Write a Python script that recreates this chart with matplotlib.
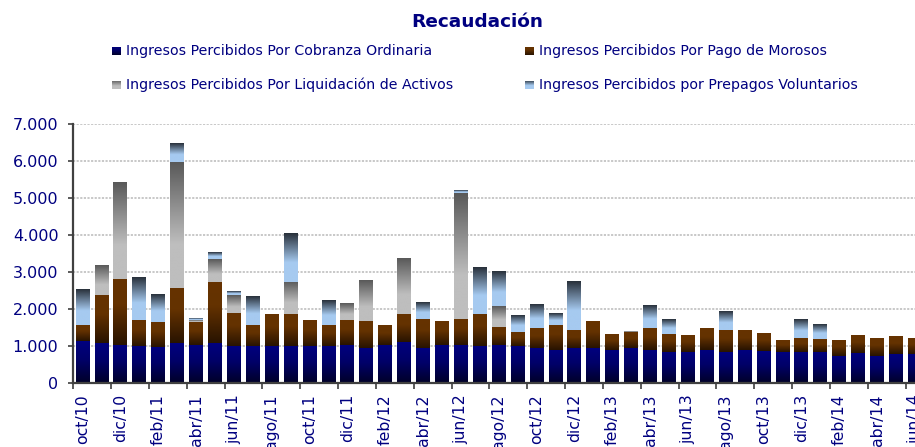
import numpy as np
import matplotlib
matplotlib.use('Agg')
import matplotlib.pyplot as plt
from matplotlib.colors import LinearSegmentedColormap
from matplotlib.ticker import FuncFormatter

# Meses (oct/10 - jun/14)
meses = ['oct/10', 'nov/10', 'dic/10', 'ene/11', 'feb/11', 'mar/11', 'abr/11', 'may/11',
         'jun/11', 'jul/11', 'ago/11', 'sep/11', 'oct/11', 'nov/11', 'dic/11', 'ene/12',
         'feb/12', 'mar/12', 'abr/12', 'may/12', 'jun/12', 'jul/12', 'ago/12', 'sep/12',
         'oct/12', 'nov/12', 'dic/12', 'ene/13', 'feb/13', 'mar/13', 'abr/13', 'may/13',
         'jun/13', 'jul/13', 'ago/13', 'sep/13', 'oct/13', 'nov/13', 'dic/13', 'ene/14',
         'feb/14', 'mar/14', 'abr/14', 'may/14', 'jun/14']

cobranza = [1126, 1072, 1036, 1009, 982, 1072, 1036, 1090, 1009, 1009, 1009, 1009, 1009, 1009, 1036,
            955, 1036, 1117, 955, 1036, 1036, 1009, 1036, 1009, 955, 901, 955, 955, 901, 955,
            901, 847, 847, 901, 847, 901, 874, 847, 847, 847, 739, 820, 739, 793, 793]
morosos = [451, 1315, 1784, 703, 676, 1505, 622, 1649, 892, 568, 838, 865, 676, 568, 676,
           730, 514, 757, 784, 622, 703, 865, 487, 378, 540, 676, 486, 703, 432, 432,
           594, 486, 459, 594, 594, 540, 486, 324, 378, 351, 432, 486, 486, 486, 432]
liquidacion = [0, 784, 2621, 0, 0, 3405, 40, 621, 486, 0, 0, 865, 0, 0, 459,
               1108, 0, 1513, 0, 0, 3405, 0, 567, 0, 0, 0, 0, 0, 0, 27,
               0, 0, 0, 0, 0, 0, 0, 0, 0, 0, 0, 0, 0, 0, 0]
prepagos = [946, 0, 0, 1162, 756, 513, 41, 163, 108, 783, 0, 1324, 0, 675, 0,
            0, 0, 0, 459, 0, 81, 1270, 919, 433, 622, 324, 1298, 0, 0, 0,
            595, 379, 0, 0, 487, 0, 0, 0, 487, 379, 0, 0, 0, 0, 0]

nombres = ['Ingresos Percibidos Por Cobranza Ordinaria',
           'Ingresos Percibidos Por Pago de Morosos',
           'Ingresos Percibidos Por Liquidación de Activos',
           'Ingresos Percibidos por Prepagos Voluntarios']

# degradados (0 = abajo, 1 = arriba)
cmaps = [
    LinearSegmentedColormap.from_list('cob', [(0, '#000028'), (0.55, '#000068'), (1, '#000080')]),
    LinearSegmentedColormap.from_list('mor', [(0, '#281300'), (0.6, '#643200'), (1, '#663300')]),
    LinearSegmentedColormap.from_list('liq', [(0, '#bebebe'), (0.35, '#bebebe'), (1, '#595959')]),
    LinearSegmentedColormap.from_list('pre', [(0, '#a6caf0'), (0.4, '#a6caf0'), (1, '#28303a')]),
]
navy = '#000080'

W, H = 915, 447
fig = plt.figure(figsize=(W / 100, H / 100), dpi=100)
ax = fig.add_axes([73 / W, 64 / H, (W - 73) / W, 259 / H])

x = np.arange(len(meses))
grad = np.linspace(0, 1, 256).reshape(-1, 1)
base = np.zeros(len(meses))
for vals, cmap in zip([cobranza, morosos, liquidacion, prepagos], cmaps):
    vals = np.array(vals, dtype=float)
    bars = ax.bar(x, vals, 0.74, bottom=base, color='none', linewidth=0, zorder=2)
    for p in bars:
        if p.get_height() <= 0:
            continue
        x0, y0 = p.get_x(), p.get_y()
        ax.imshow(grad, extent=(x0, x0 + p.get_width(), y0, y0 + p.get_height()),
                  origin='lower', aspect='auto', cmap=cmap, zorder=2)
    base += vals

ax.set_xlim(-0.51, 43.97)
ax.set_ylim(0, 7000)

for s in ['top', 'right']:
    ax.spines[s].set_visible(False)
for s in ['left', 'bottom']:
    ax.spines[s].set_color('#404040')
    ax.spines[s].set_linewidth(1.6)

ax.set_yticks(np.arange(0, 7001, 1000))
ax.yaxis.set_major_formatter(FuncFormatter(lambda v, p: f'{int(v):,}'.replace(',', '.')))
ax.tick_params(axis='y', length=3.5, width=1.2, color='#404040', pad=7,
               labelsize=11.5, labelcolor=navy)
ax.yaxis.grid(True, color='#c4c4c4', linestyle=(0, (1.2, 0.8)), linewidth=1.3)
ax.set_axisbelow(True)

ax.set_xticks(x[::2])
ax.set_xticklabels(meses[::2], rotation=90)
ax.set_xticks(np.arange(-0.5, len(meses), 2), minor=True)
ax.tick_params(axis='x', which='major', length=0, pad=8, labelsize=11.3, labelcolor=navy)
ax.tick_params(axis='x', which='minor', length=4, width=1.2, color='#404040')

fig.text(477 / W, 1 - 22 / H, 'Recaudación', ha='center', va='center',
         fontsize=13.3, fontweight='bold', color=navy)

# leyenda
pos = [(112, 51), (525, 51), (112, 85), (525, 85)]
for (px, py), nombre, cmap in zip(pos, nombres, cmaps):
    lax = fig.add_axes([px / W, 1 - (py + 4.5) / H, 9 / W, 9 / H])
    lax.imshow(grad, origin='lower', aspect='auto', cmap=cmap)
    lax.set_axis_off()
    fig.text((px + 14) / W, 1 - py / H, nombre, ha='left', va='center',
             fontsize=10.2, color=navy)

fig.savefig('out.png', dpi=100)
